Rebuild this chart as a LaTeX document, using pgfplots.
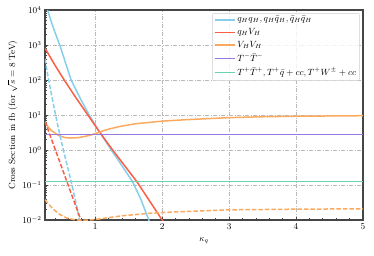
\documentclass[border=0pt]{standalone}
\usepackage{pgfplots}
\pgfplotsset{compat=1.18}
\definecolor{cblue}{RGB}{135,206,235}
\definecolor{cred}{RGB}{250,95,70}
\definecolor{corange}{RGB}{250,170,95}
\definecolor{cpurple}{RGB}{150,120,225}
\definecolor{cgreen}{RGB}{105,212,170}
\definecolor{axgray}{RGB}{70,70,70}
\begin{document}
\begin{tikzpicture}
\begin{axis}[
  at={(0,0)}, anchor=south west,
  scale only axis, width=318pt, height=210pt,
  xmin=0.25, xmax=5, ymin=0.01, ymax=10000,
  ymode=log,
  xtick={1,2,3,4,5},
  minor xtick={0.4,0.6,0.8,1.2,1.4,1.6,1.8,2.2,2.4,2.6,2.8,3.2,3.4,3.6,3.8,4.2,4.4,4.6,4.8},
  ytick={0.01,0.1,1,10,100,1000,10000},
  tick pos=left,
  tick align=inside,
  major tick length=3.5pt, minor tick length=2pt,
  every tick/.style={axgray, line width=0.7pt},
  axis line style={axgray, line width=1.3pt},
  grid=major,
  major grid style={gray!55, line width=0.7pt, dash pattern=on 4pt off 1.5pt on 1pt off 1.5pt},
  tick label style={font=\small},
  label style={font=\small},
  xlabel={$\kappa_q$},
  ylabel={Cross Section in fb (for $\sqrt{s}=8$ TeV)},
  ylabel style={yshift=-2pt},
  xlabel style={yshift=-1pt},
  legend style={font=\small, at={(0.99,0.985)}, anchor=north east,
    draw=gray!40, rounded corners=2pt, fill=white, fill opacity=0.8, text opacity=1,
    row sep=1pt, inner sep=1.5pt},
  legend cell align=left,
  legend image code/.code={\draw[#1] (0pt,0pt) -- (20pt,0pt);},
  clip=true,
]
% solid curves
\addplot[cblue, line width=1.5pt] coordinates {
(0.25,16600) (0.288,10000) (0.33,5600) (0.38,2900) (0.43,1600) (0.47,1000) (0.55,340) (0.64,100)
(0.77,31.6) (0.91,10) (1.07,3.16) (1.24,1) (1.40,0.355) (1.556,0.126)
(1.68,0.0398) (1.80,0.01) (1.82,0.0079)};
\addlegendentry{$q_H q_H, q_H \bar q_H, \bar q_H \bar q_H$}
\addplot[cred, line width=1.5pt] coordinates {
(0.25,813) (0.39,282) (0.537,100) (0.71,31.6) (0.89,10) (1.07,3.16)
(1.26,1) (1.44,0.355) (1.62,0.126) (1.81,0.0355) (2.0,0.01) (2.02,0.0089)};
\addlegendentry{$q_H V_H$}
\addplot[corange, line width=1.5pt] coordinates {
(0.25,6.31) (0.30,4.47) (0.35,3.55) (0.45,2.63) (0.55,2.26) (0.64,2.20)
(0.75,2.26) (0.85,2.45) (0.94,2.69) (1.0,2.95) (1.1,3.43) (1.2,3.94)
(1.36,4.68) (1.6,5.62) (2.0,6.68) (2.36,7.35) (3.0,8.41) (3.5,8.91)
(4.0,9.23) (5.0,9.55)};
\addlegendentry{$V_H V_H$}
\addplot[cpurple, line width=1.5pt] coordinates {(0.25,2.8) (5,2.8)};
\addlegendentry{$T^- \bar T^-$}
\addplot[cgreen, line width=1.5pt] coordinates {(0.25,0.127) (5,0.127)};
\addlegendentry{$T^+\bar T^+, T^+\bar q + cc, T^+W^\pm + cc$}
% dashed curves
\addplot[cblue, line width=1.5pt, dash pattern=on 4.5pt off 2pt, forget plot] coordinates {
(0.25,398) (0.30,112) (0.35,35.5) (0.40,12.0) (0.45,4.17) (0.50,1.58)
(0.55,0.631) (0.60,0.263) (0.65,0.105) (0.70,0.0398) (0.76,0.0112) (0.78,0.0071)};
\addplot[cred, line width=1.5pt, dash pattern=on 4.5pt off 2pt, forget plot] coordinates {
(0.25,6.61) (0.40,1.07) (0.55,0.174) (0.70,0.0282) (0.80,0.0085)};
\addplot[corange, line width=1.5pt, dash pattern=on 4.5pt off 2pt, forget plot] coordinates {
(0.25,0.038) (0.32,0.0263) (0.39,0.0191) (0.48,0.0141) (0.57,0.0115)
(0.69,0.0102) (0.80,0.0098) (0.92,0.0100) (1.06,0.0107) (1.4,0.0132)
(1.8,0.0155) (2.18,0.0170) (3.0,0.0195) (4.0,0.0204) (5.0,0.0209)};
\end{axis}
\pgfresetboundingbox
\path[use as bounding box] (-45pt,-35pt) rectangle (329pt,220pt);
\end{tikzpicture}
\end{document}
